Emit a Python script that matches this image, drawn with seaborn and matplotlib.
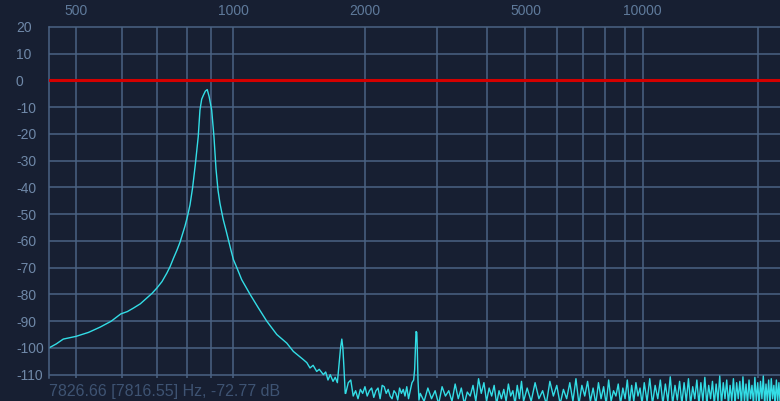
import numpy as np
import pandas as pd
import matplotlib
matplotlib.use("Agg")
import matplotlib.pyplot as plt
import seaborn as sns

# ---------------- data ----------------
# main tone (~882 Hz) skirt, 2nd and 3rd harmonics
peak_hz = [453, 465, 477, 500, 525, 550, 575, 598, 615, 631, 650, 668, 684, 699,
           715, 731, 742, 753, 765, 776, 785, 794, 803, 813, 823, 834, 845, 852,
           859, 866, 874, 882, 890, 901, 906, 911, 920, 929, 938, 953, 966, 977,
           990, 1002, 1019, 1044, 1089, 1135, 1185, 1248, 1314, 1360, 1434, 1460,
           1485, 1510, 1539, 1560, 1595, 1615, 1635, 1655, 1680, 1700, 1720, 1740,
           1750, 1762, 1772, 1782, 1795]
peak_db = [-100, -98.5, -96.7, -95.7, -94.2, -92.2, -90.0, -87.3, -86.4, -85.1,
           -83.5, -81.4, -79.6, -77.6, -75.2, -72.0, -69.5, -66.5, -63.5, -60.5,
           -57.5, -54.5, -51.0, -46.5, -40.0, -31.0, -21.0, -11.0, -7.0, -5.5,
           -4.0, -3.4, -6.0, -11.0, -16.0, -21.0, -33.0, -41.0, -46.0, -52.0,
           -56.0, -59.5, -63.5, -67.0, -70.0, -74.5, -80.0, -85.0, -90.0, -95.0,
           -98.2, -101.3, -104.4, -105.5, -107.5, -106.5, -108.8, -108.0, -110.0,
           -109.0, -112.0, -110.0, -112.5, -111.0, -113.0, -104.0, -100.0, -96.7,
           -100.0, -107.0, -117.0]

low_noise_hz = [1800, 1825, 1850, 1875, 1900, 1925, 1950, 1975, 2000, 2025, 2050,
                2075, 2100, 2125, 2150, 2175, 2200, 2225, 2250, 2275, 2300, 2325,
                2350, 2375, 2400, 2425, 2450, 2475, 2500, 2525, 2550, 2575, 2600,
                2625, 2640, 2650, 2660, 2672, 2680, 2690, 2705]
low_noise_db = [-117, -113, -112, -118, -116, -119, -115.5, -117, -114.5, -118,
                -116, -115, -118.5, -116, -115, -119, -114, -114.5, -117, -115.5,
                -118, -119, -116, -117, -119.5, -115, -117, -115.5, -118, -114.5,
                -119, -116, -113, -112, -108, -100.7, -93.9, -94.2, -100.7, -112,
                -119.5]

mid_noise_hz = [2725, 2785, 2845, 2905, 2965, 3025, 3085, 3145, 3205, 3265,
                3325, 3385, 3445, 3505, 3565, 3625, 3685, 3745, 3805, 3865,
                3925, 3985, 4045, 4105, 4165, 4225, 4285, 4345, 4405, 4465,
                4525, 4585, 4645, 4705, 4765, 4825, 4885, 4945]
mid_noise_db = [-117, -120, -115, -119, -116, -121, -114.5, -118, -116, -120,
                -113.5, -119, -115, -121, -116.5, -118, -114, -120, -111.5, -117,
                -113, -120, -115, -118, -114, -121, -116, -119, -115.5, -120,
                -113.5, -118, -116, -121, -114, -119, -112.5, -120]

high_noise_hz = [5050, 5170, 5290, 5410, 5530, 5650, 5770, 5890, 6010, 6130,
                 6250, 6370, 6490, 6610, 6730, 6850, 6970, 7090, 7210, 7330,
                 7450, 7570, 7690, 7810, 7930, 8050, 8170, 8290, 8410, 8530,
                 8650, 8770, 8890, 9010, 9130, 9250, 9370, 9490, 9610, 9730,
                 9850, 9970]
high_noise_db = [-115, -120, -113, -119, -116, -121, -112.5, -118, -114, -121,
                 -115.5, -119, -113, -120, -111.5, -121, -114, -118, -112.5, -120,
                 -115, -121, -113, -119, -114.5, -121, -112, -120, -116, -118,
                 -113.5, -121, -115, -119, -112, -121, -114, -120, -113, -118,
                 -115, -121]

top_noise_hz = [10100, 10270, 10440, 10610, 10780, 10950, 11120, 11290, 11460, 11630,
                11800, 11970, 12140, 12310, 12480, 12650, 12820, 12990, 13160, 13330,
                13500, 13670, 13840, 14010, 14180, 14350, 14520, 14690, 14860, 15030,
                15200, 15370, 15540, 15710, 15880, 16050, 16220, 16390, 16560, 16730,
                16900, 17070, 17240, 17410, 17580, 17750, 17920, 18090, 18260, 18430,
                18600, 18770, 18940, 19110, 19280, 19450, 19620, 19790, 19960, 20130,
                20300, 20470, 20640, 20810, 20980, 21150, 21320, 21490, 21660, 21830,
                22000, 22170, 22340, 22510, 22680, 22850]
top_noise_db = [-113, -120, -111.5, -121, -114, -119, -112, -121, -113.5, -120,
                -110.8, -121, -114, -119.5, -112.5, -121, -113, -120, -111.5, -121,
                -114.5, -119, -112, -121, -113, -120, -111, -121, -114, -119,
                -112.5, -121, -113.5, -120, -110.5, -121, -113, -119, -112, -121,
                -114, -120, -111.5, -121, -113, -119, -112.5, -121, -110.8, -120,
                -113.5, -121, -112, -119, -114, -121, -111, -120, -113, -121,
                -112.5, -119, -110.5, -121, -113.5, -120, -112, -121, -111.5, -119,
                -114, -121, -112, -120, -113, -121]

x_tick_hz = [500, 1000, 2000, 5000, 10000]
x_tick_labels = ["500", "1000", "2000", "5000", "10000"]
x_grid_hz = [500, 600, 700, 800, 900, 1000, 2000, 3000, 4000, 5000, 6000,
             7000, 8000, 9000, 10000, 20000]
y_ticks = [20, 10, 0, -10, -20, -30, -40, -50, -60, -70, -80, -90, -100, -110]
reference_db = 0
readout = "7826.66 [7816.55] Hz, -72.77 dB"

# ---------------- style ----------------
BG = "#171f32"
GRID = "#4a6283"
YLAB = "#6f88a8"
XLAB = "#5f7a9b"
CYAN = "#33dde6"
RED = "#d40000"

sns.set_style("dark", rc={"axes.facecolor": BG, "figure.facecolor": BG})
plt.rcParams["font.family"] = ["Liberation Sans", "DejaVu Sans"]

OFFSET = 188.0


def fwd(f):
    return np.log(np.clip(np.asarray(f, dtype=float) - OFFSET, 1e-6, None))


def inv(u):
    return np.exp(u) + OFFSET


df = pd.DataFrame({
    "hz": peak_hz + low_noise_hz + mid_noise_hz + high_noise_hz + top_noise_hz,
    "db": peak_db + low_noise_db + mid_noise_db + high_noise_db + top_noise_db,
})

fig = plt.figure(figsize=(7.8, 4.01), dpi=100, facecolor=BG)
ax = fig.add_axes([49 / 780, 0, 731 / 780, 374 / 401])
ax.set_facecolor(BG)
ax.grid(False)
ax.set_xscale("function", functions=(fwd, inv))

# grid
ax.vlines(x_grid_hz, -111.3, 20, color=GRID, lw=1.1, zorder=0.5)
for yv in y_ticks:
    ax.axhline(yv, color=GRID, lw=1.1, zorder=0.5, clip_on=(yv != 20))

sns.lineplot(data=df, x="hz", y="db", ax=ax, color=CYAN, lw=1.0,
             estimator=None, sort=False, zorder=2)

ax.axhline(reference_db, color=RED, lw=2.2, zorder=3)

ax.set_xlim(453, 22830)
ax.set_ylim(-119.85, 20)

for s in ["right", "bottom", "top"]:
    ax.spines[s].set_visible(False)
ax.spines["left"].set_color(GRID)
ax.spines["left"].set_linewidth(1.1)
ax.spines["left"].set_bounds(-111.3, 20)

ax.set_yticks(y_ticks)
ax.set_yticklabels([str(v) for v in y_ticks])
ax.tick_params(axis="y", length=0, pad=23.8, labelsize=10, labelcolor=YLAB)
plt.setp(ax.get_yticklabels(), ha="left")

ax.xaxis.tick_top()
ax.set_xticks(x_tick_hz)
ax.set_xticklabels(x_tick_labels)
ax.set_xticks([], minor=True)
ax.tick_params(axis="x", length=0, pad=6.5, labelsize=10, labelcolor=XLAB)
ax.set_xlabel("")
ax.set_ylabel("")

fig.text(49 / 780, 1 - 396 / 401, readout, color="#3e5372", fontsize=11.5,
         ha="left", va="baseline")

fig.savefig("out.png", dpi=100, facecolor=BG)
